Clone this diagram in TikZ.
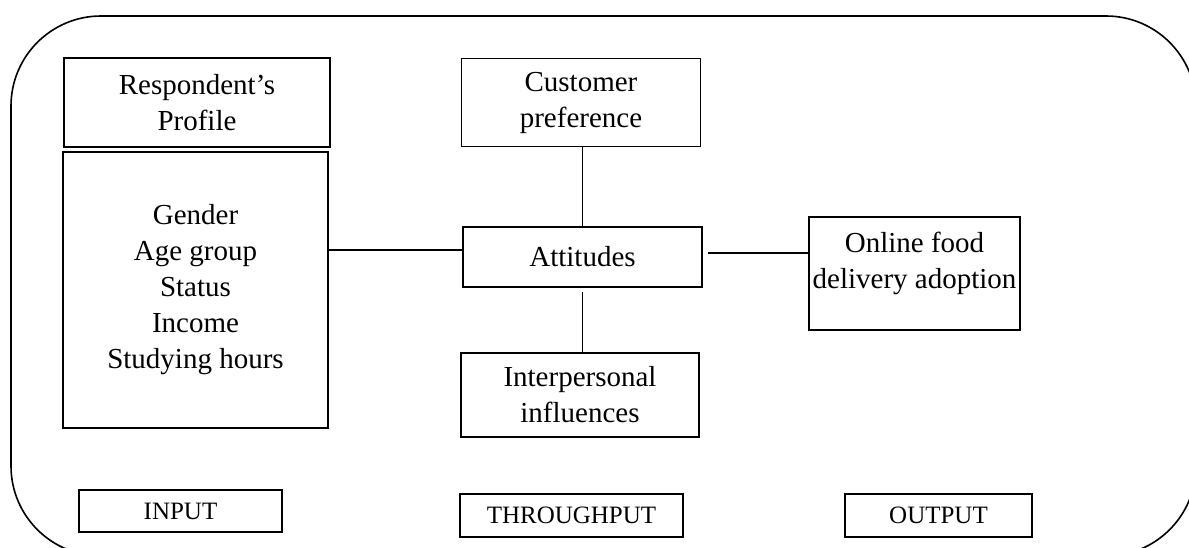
\documentclass[tikz,border=0pt]{standalone}
\usepackage{fontspec}
\setmainfont{Liberation Serif}
\usetikzlibrary{positioning}

\begin{document}
\begin{tikzpicture}[x=0.5pt,y=-0.5pt,
    every node/.style={font=\fontsize{14.5}{18}\selectfont},
    box/.style={draw, line width=0.6pt, inner sep=0pt, align=center},
    tag/.style={draw, line width=1pt, inner sep=0pt, font=\fontsize{12.5}{15}\selectfont}]
  \useasboundingbox (0,0) rectangle (1189,547);
  % outer frame (runs past the page at right and bottom)
  \draw[line width=0.8pt, rounded corners=45pt] (11,16) rectangle (1196,556);

  % input side
  \node[box, minimum width=133pt, minimum height=44.5pt] (prof) at (197,102.5) {Respondent's\\Profile};
  \node[box, minimum width=132.5pt, minimum height=138pt] (list) at (195.5,290)
    {Gender\\Age group\\Status\\Income\\Studying hours};

  % throughput
  \node[box, minimum width=119.5pt, minimum height=44pt] (pref) at (581,102.5) {Customer\\preference};
  \node[box, minimum width=119.5pt, minimum height=30pt] (att) at (582.5,257) {Attitudes};
  \node[box, minimum width=119pt, minimum height=42pt] (infl) at (580,395) {Interpersonal\\influences};

  % output
  \node[box, minimum width=105.5pt, minimum height=56.5pt] (adopt) at (914.5,273.5)
    {Online food\\delivery adoption\rule[-13pt]{0pt}{13pt}};

  % stage labels
  \node[tag, minimum width=101.5pt, minimum height=21pt] (in) at (180.5,511) {INPUT};
  \node[tag, minimum width=111.5pt, minimum height=21.5pt] (thru) at (571.5,515.5) {THROUGHPUT};
  \node[tag, minimum width=93.5pt, minimum height=21.5pt] (out) at (938.5,515.5) {OUTPUT};

  % links
  \draw[line width=0.6pt] (list.east |- 0,250) -- (att.west |- 0,250);
  \draw[line width=0.6pt] (pref.south -| att.north) -- (att.north);
  \draw[line width=0.6pt, shorten <=2pt] (att.south) -- (infl.north -| att.south);
  \draw[line width=0.6pt, shorten <=2.5pt] (att.east |- 0,253) -- (adopt.west |- 0,253);
\end{tikzpicture}
\end{document}
